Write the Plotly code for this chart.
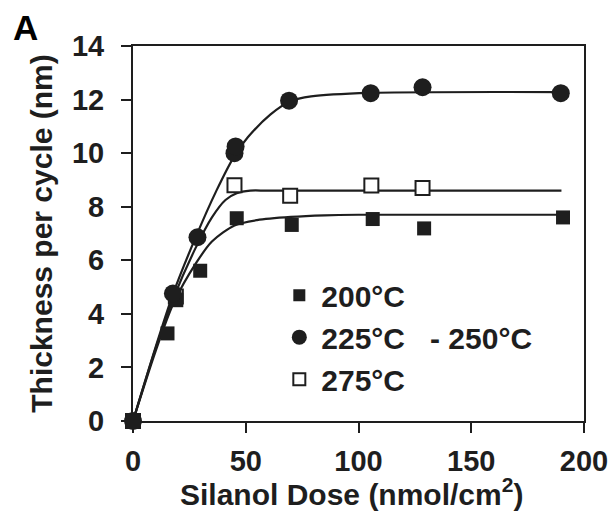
import plotly.graph_objects as go

# Data points
x200 = [0, 15.3, 19.2, 29.8, 46, 70.4, 106.3, 129.1, 190.7]
y200 = [0, 3.27, 4.51, 5.61, 7.57, 7.32, 7.54, 7.19, 7.60]

x225 = [0, 17.7, 28.6, 45, 45.5, 69.2, 105.4, 128.4, 189.7]
y225 = [0, 4.76, 6.86, 10.0, 10.25, 11.96, 12.24, 12.46, 12.24]

x275 = [0, 19.0, 45, 69.7, 105.7, 128.4]
y275 = [0, 4.65, 8.80, 8.41, 8.79, 8.70]

# Fitted curves
fx200 = [0, 10, 18, 28, 35, 45, 55, 70, 85, 100, 190]
fy200 = [0, 2.6, 4.4, 5.9, 6.7, 7.3, 7.5, 7.62, 7.68, 7.7, 7.7]

fx225 = [0, 10, 18, 28, 37, 45, 51, 61, 70, 79, 105, 190]
fy225 = [0, 2.75, 4.8, 6.9, 8.6, 9.9, 10.6, 11.45, 11.95, 12.12, 12.25, 12.28]

fx275 = [0, 10, 18, 28, 35, 41, 46, 52, 60, 190]
fy275 = [0, 2.7, 4.6, 6.5, 7.6, 8.25, 8.5, 8.6, 8.6, 8.6]

legend_names = ["200°C", "225°C   - 250°C", "275°C"]
xticks = [0, 50, 100, 150, 200]
yticks = [0, 2, 4, 6, 8, 10, 12, 14]

C = "#1e1e1e"
FONT = "Liberation Sans, Arial, sans-serif"

fig = go.Figure()
for fx, fy in [(fx200, fy200), (fx225, fy225), (fx275, fy275)]:
    fig.add_trace(go.Scatter(x=fx, y=fy, mode="lines", line=dict(color=C, width=2.2, shape="spline", smoothing=0.8),
                             showlegend=False, hoverinfo="skip", cliponaxis=False))

fig.add_trace(go.Scatter(x=x275, y=y275, mode="markers", showlegend=False, cliponaxis=False,
                         marker=dict(symbol="square", size=14, color="white", line=dict(width=2, color=C))))
fig.add_trace(go.Scatter(x=x200, y=y200, mode="markers", showlegend=False, cliponaxis=False,
                         marker=dict(symbol="square", size=14, color=C, line=dict(width=0))))
fig.add_trace(go.Scatter(x=x225, y=y225, mode="markers", showlegend=False, cliponaxis=False,
                         marker=dict(symbol="circle", size=18, color=C, line=dict(width=0))))

# legend-only traces
leg_markers = [dict(symbol="square", size=12, color=C, line=dict(width=0)),
               dict(symbol="circle", size=15, color=C, line=dict(width=0)),
               dict(symbol="square", size=12, color="white", line=dict(width=2, color=C))]
for nm, mk in zip(legend_names, leg_markers):
    fig.add_trace(go.Scatter(x=[None], y=[None], mode="markers", name=nm, marker=mk, showlegend=True))

axis_common = dict(showline=True, linecolor=C, linewidth=2, mirror=True, ticks="outside",
                   ticklen=10, tickwidth=2, tickcolor=C, showgrid=False, zeroline=False,
                   automargin=False,
                   tickfont=dict(family=FONT, size=29, color=C, weight="bold"))

fig.update_xaxes(range=[0, 200], tickvals=xticks, ticktext=[str(v) for v in xticks],
                 ticklabelstandoff=3,
                 **axis_common)
fig.update_yaxes(range=[0, 14], tickvals=yticks, ticktext=[str(v) for v in yticks],
                 ticklabelstandoff=11,
                 title=dict(text="<b>Thickness per cycle (nm)</b>", font=dict(family=FONT, size=30, color=C), standoff=10),
                 **axis_common)

fig.update_layout(
    width=612, height=515,
    margin=dict(l=133, r=28, t=46, b=94),
    plot_bgcolor="white", paper_bgcolor="white",
    font=dict(family=FONT, color=C, size=28, weight="bold"),
    legend=dict(x=0.32, y=0.405, xanchor="left", yanchor="top", bgcolor="rgba(0,0,0,0)",
                font=dict(family=FONT, size=30, color=C, weight="bold"),
                itemwidth=34),
    annotations=[
        dict(text="<b>A</b>", x=0.0, y=1.0, xref="paper", yref="paper",
             xshift=-133+11, yshift=46-6, xanchor="left", yanchor="top", showarrow=False,
             font=dict(family=FONT, size=35, color="black")),
        dict(text="<b>Silanol Dose (nmol/cm<sup>2</sup>)</b>", x=0.5, y=0, xref="paper", yref="paper",
             xshift=-7, yshift=-(492-421), xanchor="center", yanchor="middle", showarrow=False,
             font=dict(family=FONT, size=30, color=C)),
    ],
)

fig.write_html("out.html")
